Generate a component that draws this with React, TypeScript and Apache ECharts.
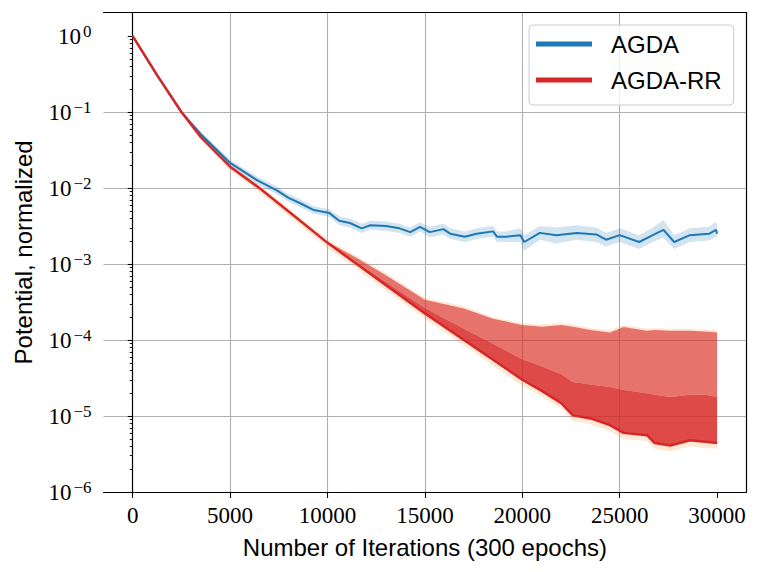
import React, { useEffect, useRef } from 'react';
import * as echarts from 'echarts';

// ---- axis structure ----
const xTickValues = [0, 5000, 10000, 15000, 20000, 25000, 30000];
const yTickValues = [1e-6, 1e-5, 1e-4, 1e-3, 1e-2, 1e-1, 1];
const yMinorTickValues = [
  2e-6, 3e-6, 4e-6, 5e-6, 6e-6, 7e-6, 8e-6, 9e-6,
  2e-5, 3e-5, 4e-5, 5e-5, 6e-5, 7e-5, 8e-5, 9e-5,
  2e-4, 3e-4, 4e-4, 5e-4, 6e-4, 7e-4, 8e-4, 9e-4,
  2e-3, 3e-3, 4e-3, 5e-3, 6e-3, 7e-3, 8e-3, 9e-3,
  2e-2, 3e-2, 4e-2, 5e-2, 6e-2, 7e-2, 8e-2, 9e-2,
  2e-1, 3e-1, 4e-1, 5e-1, 6e-1, 7e-1, 8e-1, 9e-1,
];

// ---- AGDA (blue) ----
const agdaX = [0, 1250, 2500, 3500, 5000, 6400, 7400, 8000, 8600, 9300, 10100, 10600, 11150, 11750, 12200, 13000, 13700, 14250, 14750, 15250, 15950, 16300, 17050, 17650, 18500, 18700, 19200, 19900, 20100, 20900, 21750, 22800, 23800, 24300, 25000, 26000, 26700, 27250, 27800, 28600, 29600, 29950, 30000];
const agdaMean = [1.0, 0.306, 0.1, 0.051, 0.0214, 0.0126, 0.00933, 0.00741, 0.00631, 0.00513, 0.00468, 0.00372, 0.00347, 0.00295, 0.00324, 0.00316, 0.00295, 0.00263, 0.00309, 0.00263, 0.00288, 0.00251, 0.00229, 0.00251, 0.00269, 0.00229, 0.00229, 0.0024, 0.00195, 0.00257, 0.0024, 0.00257, 0.00245, 0.00209, 0.0024, 0.00195, 0.0024, 0.00282, 0.00195, 0.0024, 0.00251, 0.00282, 0.00251];
const agdaLow = [1.0, 0.299, 0.0966, 0.0476, 0.0195, 0.0112, 0.0083, 0.0066, 0.0056, 0.00457, 0.00417, 0.00324, 0.00302, 0.00257, 0.00282, 0.00275, 0.00257, 0.00229, 0.00269, 0.00224, 0.00245, 0.00214, 0.00195, 0.00214, 0.00229, 0.00195, 0.00195, 0.00195, 0.0015, 0.00209, 0.00186, 0.00209, 0.00195, 0.0017, 0.00195, 0.00158, 0.00195, 0.0022, 0.00158, 0.00195, 0.00204, 0.0023, 0.00204];
const agdaHigh = [1.0, 0.313, 0.1035, 0.0547, 0.0235, 0.0141, 0.0105, 0.0083, 0.0071, 0.00576, 0.00525, 0.00427, 0.00398, 0.00339, 0.00372, 0.00363, 0.00339, 0.00302, 0.00355, 0.00309, 0.00338, 0.00295, 0.00269, 0.00295, 0.00316, 0.00269, 0.00269, 0.00295, 0.0024, 0.00316, 0.00302, 0.00324, 0.00302, 0.00257, 0.00295, 0.0024, 0.00302, 0.0038, 0.0024, 0.00295, 0.00309, 0.0036, 0.00316];

// ---- AGDA-RR (red) ----
const rrX = [0, 1250, 2500, 3500, 5000, 6500, 8500, 10000, 11500, 13000, 15000, 17000, 18500, 20000, 21000, 22000, 22600, 23500, 24500, 25200, 26400, 26800, 27600, 28600, 29400, 30000];
// bottom of the oscillation (the dark edge)
const rrLow = [1.0, 0.306, 0.1, 0.0468, 0.0191, 0.01, 0.00389, 0.0019, 0.001, 5.25e-4, 2.24e-4, 1.0e-4, 5.5e-5, 3.0e-5, 2.14e-5, 1.48e-5, 1.02e-5, 9.3e-6, 7.6e-6, 6.0e-6, 5.6e-6, 4.4e-6, 4.1e-6, 4.8e-6, 4.6e-6, 4.4e-6];
// top of the densely filled part of the oscillation
const rrMid = [1.0, 0.306, 0.1, 0.0468, 0.0191, 0.01, 0.00389, 0.0019, 1.05e-3, 5.75e-4, 2.63e-4, 1.41e-4, 8.9e-5, 5.6e-5, 4.5e-5, 3.55e-5, 2.8e-5, 2.6e-5, 2.4e-5, 2.2e-5, 2.0e-5, 1.9e-5, 1.78e-5, 1.9e-5, 1.9e-5, 1.78e-5];
// peaks of the oscillation
const rrPeak = [1.0, 0.31, 0.101, 0.0475, 0.0195, 0.0102, 0.00397, 0.00196, 0.0012, 7.1e-4, 3.4e-4, 2.6e-4, 1.9e-4, 1.58e-4, 1.5e-4, 1.58e-4, 1.5e-4, 1.35e-4, 1.26e-4, 1.48e-4, 1.32e-4, 1.35e-4, 1.32e-4, 1.32e-4, 1.29e-4, 1.26e-4];
// spread band
const rrBandLow = [0.98, 0.29, 0.094, 0.043, 0.0172, 0.0088, 0.0034, 0.00163, 0.00086, 4.5e-4, 1.9e-4, 8.5e-5, 4.6e-5, 2.5e-5, 1.8e-5, 1.25e-5, 8.6e-6, 7.8e-6, 6.3e-6, 5.0e-6, 4.7e-6, 3.7e-6, 3.4e-6, 4.0e-6, 3.8e-6, 3.7e-6];
const rrBandHigh = [1.02, 0.318, 0.106, 0.0505, 0.0208, 0.011, 0.0043, 0.0021, 0.00128, 7.6e-4, 3.6e-4, 2.8e-4, 2.0e-4, 1.68e-4, 1.6e-4, 1.68e-4, 1.6e-4, 1.44e-4, 1.35e-4, 1.58e-4, 1.41e-4, 1.44e-4, 1.41e-4, 1.41e-4, 1.38e-4, 1.35e-4];

const SERIF = '"Liberation Serif", "DejaVu Serif", serif';
const SANS = '"Liberation Sans", Arial, sans-serif';
const X_MIN = -1500;
const X_MAX = 31500;
const Y_MIN = 1e-6;
const Y_MAX = 2.03;

function band(name: string, xs: number[], lo: number[], hi: number[], fill: string) {
  return {
    type: 'custom',
    name,
    coordinateSystem: 'cartesian2d',
    silent: true,
    clip: true,
    data: [[xs[0], hi[0]]],
    encode: { x: 0, y: 1 },
    renderItem: (_params: any, api: any) => {
      const top = xs.map((x, i) => api.coord([x, hi[i]]));
      const bottom = xs.map((x, i) => api.coord([x, lo[i]])).reverse();
      return {
        type: 'polygon',
        shape: { points: top.concat(bottom) },
        style: { fill, stroke: 'none' },
      };
    },
  };
}

function pairs(xs: number[], ys: number[]) {
  return xs.map((x, i) => [x, ys[i]]);
}

export default function App() {
  const ref = useRef<HTMLDivElement>(null);
  useEffect(() => {
    document.body.style.margin = '0';
    if (!ref.current) return;
    const chart = echarts.init(ref.current, undefined, { renderer: 'svg' });
    const yLabelFmt = (v: number) => {
      const l = Math.log10(v);
      const e = Math.round(l);
      if (Math.abs(l - e) > 1e-6) return '';
      const s = e < 0 ? '\u2212' + String(-e) : String(e);
      return `{b|10}{s|${s}}`;
    };
    chart.setOption({
      animation: false,
      grid: {
        left: 103.5, right: 14.7, top: 12.7, bottom: 80,
        containLabel: false, outerBoundsMode: 'none',
      },
      legend: {
        data: ['AGDA', 'AGDA-RR'],
        orient: 'vertical',
        left: 529, top: 25,
        icon: 'rect',
        itemWidth: 56, itemHeight: 5, itemGap: 10,
        padding: [6, 12, 12, 7],
        backgroundColor: 'rgba(255,255,255,0.8)',
        borderColor: '#cccccc', borderWidth: 1, borderRadius: 4,
        textStyle: { fontFamily: SANS, fontSize: 24, color: '#000', lineHeight: 26, padding: [0, 0, 0, 14] },
      },
      xAxis: [
        {
          type: 'value', min: X_MIN, max: X_MAX, splitNumber: 6,
          name: 'Number of Iterations (300 epochs)',
          nameLocation: 'middle', nameGap: 43,
          nameTextStyle: { fontFamily: SANS, fontSize: 24, color: '#000' },
          axisLine: { show: true, lineStyle: { color: '#000', width: 1.2 } },
          axisTick: { show: true, length: 6, customValues: xTickValues, lineStyle: { color: '#000', width: 1.1 } },
          axisLabel: {
            customValues: xTickValues, margin: 12,
            fontFamily: SERIF, fontSize: 23, color: '#000',
            formatter: (v: number) => String(v),
          },
          splitLine: { show: true, showMinLine: false, showMaxLine: false, lineStyle: { color: '#b0b0b0', width: 1.1 } },
        },
        {
          type: 'value', min: X_MIN, max: X_MAX, position: 'top',
          axisLine: { show: true, lineStyle: { color: '#000', width: 1.2 } },
          axisTick: { show: false }, axisLabel: { show: false }, splitLine: { show: false },
        },
      ],
      yAxis: [
        {
          type: 'log', logBase: 10, min: Y_MIN, max: Y_MAX,
          name: 'Potential, normalized',
          nameLocation: 'middle', nameGap: 68, nameRotate: 90,
          nameTextStyle: { fontFamily: SANS, fontSize: 24, color: '#000' },
          axisLine: { show: true, lineStyle: { color: '#000', width: 1.2 } },
          axisTick: { show: true, length: 5, customValues: yTickValues, lineStyle: { color: '#000', width: 1.1 } },
          axisLabel: {
            customValues: yTickValues, margin: 12,
            fontFamily: SERIF, fontSize: 23, color: '#000',
            formatter: yLabelFmt,
            rich: {
              b: { fontFamily: SERIF, fontSize: 23, color: '#000', lineHeight: 26 },
              s: { fontFamily: SERIF, fontSize: 17, color: '#000', lineHeight: 15, verticalAlign: 'top', padding: [0, 0, 0, 2] },
            },
          },
          splitLine: { show: true, showMinLine: false, showMaxLine: false, lineStyle: { color: '#b0b0b0', width: 1.1 } },
        },
        {
          type: 'log', logBase: 10, min: Y_MIN, max: Y_MAX, position: 'left',
          axisLine: { show: false },
          axisTick: { show: true, length: 3, customValues: yMinorTickValues, lineStyle: { color: '#000', width: 0.9 } },
          axisLabel: { show: false }, splitLine: { show: false },
        },
        {
          type: 'log', logBase: 10, min: Y_MIN, max: Y_MAX, position: 'right',
          axisLine: { show: true, lineStyle: { color: '#000', width: 1.2 } },
          axisTick: { show: false }, axisLabel: { show: false }, splitLine: { show: false },
        },
      ],
      series: [
        band('AGDA band', agdaX, agdaLow, agdaHigh, 'rgba(31,119,180,0.2)'),
        {
          type: 'line', name: 'AGDA', data: pairs(agdaX, agdaMean),
          showSymbol: false, symbol: 'none', color: '#1f77b4',
          lineStyle: { color: '#1f77b4', width: 2 },
        },
        band('AGDA-RR band', rrX, rrBandLow, rrBandHigh, 'rgba(255,127,14,0.18)'),
        band('AGDA-RR peaks', rrX, rrMid, rrPeak, 'rgba(214,39,40,0.6)'),
        band('AGDA-RR dense', rrX, rrLow, rrMid, 'rgba(214,39,40,0.82)'),
        {
          type: 'line', name: 'AGDA-RR', data: pairs(rrX, rrLow),
          showSymbol: false, symbol: 'none', color: '#d62728',
          lineStyle: { color: '#d62728', width: 2.5 },
        },
      ],
    });
    return () => chart.dispose();
  }, []);
  return <div ref={ref} style={{ width: 761, height: 572 }} />;
}
